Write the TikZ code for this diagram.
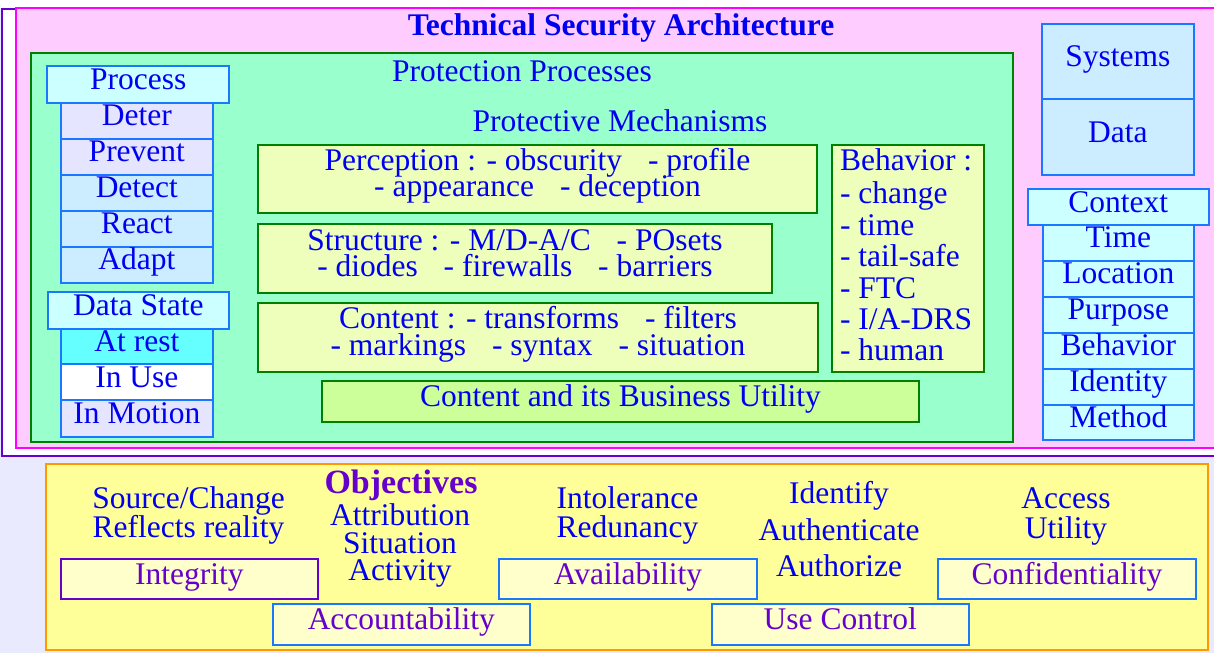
\documentclass[tikz,border=0pt]{standalone}
\usepackage{fontspec}
\setmainfont{Liberation Serif}

\definecolor{tblue}{RGB}{0,0,240}
\definecolor{bblue}{RGB}{25,120,255}
\definecolor{pur}{RGB}{102,0,204}
\definecolor{mag}{RGB}{255,0,255}
\definecolor{pinkbg}{RGB}{255,204,255}
\definecolor{mint}{RGB}{153,255,204}
\definecolor{dgreen}{RGB}{0,128,0}
\definecolor{mech}{RGB}{238,255,187}
\definecolor{lime}{RGB}{204,255,153}
\definecolor{cyanl}{RGB}{204,255,255}
\definecolor{skyl}{RGB}{204,236,255}
\definecolor{lav}{RGB}{229,229,255}
\definecolor{aqua}{RGB}{102,255,255}
\definecolor{ylw}{RGB}{255,255,153}
\definecolor{ylwl}{RGB}{255,255,204}
\definecolor{orng}{RGB}{255,153,0}
\definecolor{pagebg}{RGB}{234,234,255}

\newcommand\fs{\fontsize{31.5}{31.5}\selectfont}
\newcommand\gp{\hspace{18pt}}

\begin{document}
\begin{tikzpicture}[x=1pt,y=-1pt,
  every node/.style={inner sep=0pt, outer sep=0pt},
  % a rectangle given by its corners (x1,y1) and (x2,y2)
  span/.style n args={4}{rectangle, at={({(#1+#3)/2},{(#2+#4)/2})},
    minimum width={#3-#1}, minimum height={#4-#2}},
  frame/.style={line width=2pt},
  cell/.style={draw=bblue, line width=2pt, font=\fs, text=tblue,
    text height=21pt, text depth=11pt},
  mbox/.style={draw=dgreen, fill=mech, line width=2pt},
  lbox/.style={cell, fill=ylwl, text=pur},
  ln/.style={font=\fs, text=tblue, anchor=base, text height=20pt, text depth=6pt},
  lnl/.style={ln, anchor=base west}]

\clip (0,0) rectangle (1214,653);
\fill[pagebg] (0,0) rectangle (1214,653);
\fill[white] (0,0) rectangle (1214,8);

% outer frames
\node[span={2}{9}{1230}{456}, frame, draw=pur, fill=white] (outer) {};
\node[span={15.7}{8.3}{1228}{447.7}, frame, draw=mag, fill=pinkbg] (tsa) {};
\node[ln, font=\fs\bfseries] (title) at (621,35.7) {Technical Security Architecture};

% protection processes
\node[span={30.7}{53.3}{1013.3}{441.7}, frame, draw=dgreen, fill=mint] (prot) {};
\node[ln] (protlbl) at (522,81.7) {Protection Processes};
\node[ln] (mechlbl) at (620,131.7) {Protective Mechanisms};

% process column
\node[span={61}{102.7}{212.7}{138.7}, cell, fill=lav] (deter) {Deter};
\node[span={61}{138.7}{212.7}{174.7}, cell, fill=lav] (prevent) {Prevent};
\node[span={61}{174.7}{212.7}{210.7}, cell, fill=skyl] (detect) {Detect};
\node[span={61}{210.7}{212.7}{246.7}, cell, fill=skyl] (react) {React};
\node[span={61}{246.7}{212.7}{282.7}, cell, fill=skyl] (adapt) {Adapt};
\node[span={47.3}{66.3}{229}{102.7}, cell, fill=cyanl] (process) {Process};

% data state column
\node[span={61}{328.7}{212.7}{364.3}, cell, fill=aqua] (atrest) {At rest};
\node[span={61}{364.3}{212.7}{400.3}, cell, fill=white] (inuse) {In Use};
\node[span={61}{400.3}{212.7}{436.7}, cell, fill=lav] (inmotion) {In Motion};
\node[span={47.5}{292.3}{229.3}{328.7}, cell, fill=cyanl] (datastate) {Data State};

% protective mechanisms
\node[span={257.7}{144.7}{817.3}{212.7}, mbox] (perc) {};
\node[ln] (perc1) at (537.5,170) {Perception : - obscurity \gp- profile};
\node[ln] (perc2) at (537.5,196.7) {- appearance \gp- deception};

\node[span={257.7}{224}{772.3}{292.7}, mbox] (struct) {};
\node[ln] (struct1) at (515,250) {Structure : - M/D-A/C \gp- POsets};
\node[ln] (struct2) at (515,276.7) {- diodes \gp- firewalls \gp- barriers};

\node[span={257.7}{303}{818.3}{371.7}, mbox] (content) {};
\node[ln] (content1) at (538,328.3) {Content : - transforms \gp- filters};
\node[ln] (content2) at (538,355) {- markings \gp- syntax \gp- situation};

\node[span={322}{381.3}{919}{422}, cell, draw=dgreen, fill=lime] (biz) {Content and its Business Utility};

\node[span={832.3}{144.7}{984.3}{372}, mbox] (behav) {};
\node[lnl] (beh0) at (840,170.7) {Behavior :};
\node[lnl] (beh1) at (840,203.5) {- change};
\node[lnl] (beh2) at (840,235.5) {- time};
\node[lnl] (beh3) at (840,266.7) {- tail-safe};
\node[lnl] (beh4) at (840,298.5) {- FTC};
\node[lnl] (beh5) at (840,329.7) {- I/A-DRS};
\node[lnl] (beh6) at (840,360) {- human};

% systems and context column
\node[span={1042}{24}{1193.7}{99}, cell, fill=skyl] (systems) {Systems};
\node[span={1042}{99}{1193.7}{175}, cell, fill=skyl] (data) {Data};

\node[span={1042.7}{225}{1194}{260.8}, cell, fill=cyanl] (time) {Time};
\node[span={1042.7}{260.8}{1194}{296.7}, cell, fill=cyanl] (location) {Location};
\node[span={1042.7}{296.7}{1194}{332.8}, cell, fill=cyanl] (purpose) {Purpose};
\node[span={1042.7}{332.8}{1194}{368.8}, cell, fill=cyanl] (behavior) {Behavior};
\node[span={1042.7}{368.8}{1194}{404.5}, cell, fill=cyanl] (identity) {Identity};
\node[span={1042.7}{404.5}{1194}{440}, cell, fill=cyanl] (method) {Method};
\node[span={1027.7}{189.3}{1208.7}{225}, cell, fill=cyanl] (context) {Context};

% objectives
\node[span={45.5}{464}{1208}{650}, frame, draw=orng, fill=ylw] (obj) {};

\node[ln] (src1) at (188.5,508.3) {Source/Change};
\node[ln] (src2) at (188.5,537) {Reflects reality};

\node[ln, font=\fontsize{34}{34}\selectfont\bfseries, text=pur] (objlbl) at (401,493) {Objectives};
\node[ln] (attr1) at (400,525) {Attribution};
\node[ln] (attr2) at (400,553) {Situation};
\node[ln] (attr3) at (400,580) {Activity};

\node[ln] (avl1) at (627.5,508) {Intolerance};
\node[ln] (avl2) at (627.5,537) {Redunancy};

\node[ln] (use1) at (839,503) {Identify};
\node[ln] (use2) at (839,540) {Authenticate};
\node[ln] (use3) at (839,576) {Authorize};

\node[ln] (conf1) at (1066,508) {Access};
\node[ln] (conf2) at (1066,538) {Utility};

\node[span={60.5}{559}{318.3}{599.3}, lbox, draw=pur] (integrity) {Integrity};
\node[span={499.4}{559}{756.6}{599.3}, lbox] (availability) {Availability};
\node[span={938}{559}{1196}{599.3}, lbox] (confidentiality) {Confidentiality};
\node[span={272.8}{604}{529.9}{645}, lbox] (accountability) {Accountability};
\node[span={711.6}{604}{968.8}{645}, lbox] (usecontrol) {Use Control};

\end{tikzpicture}
\end{document}
